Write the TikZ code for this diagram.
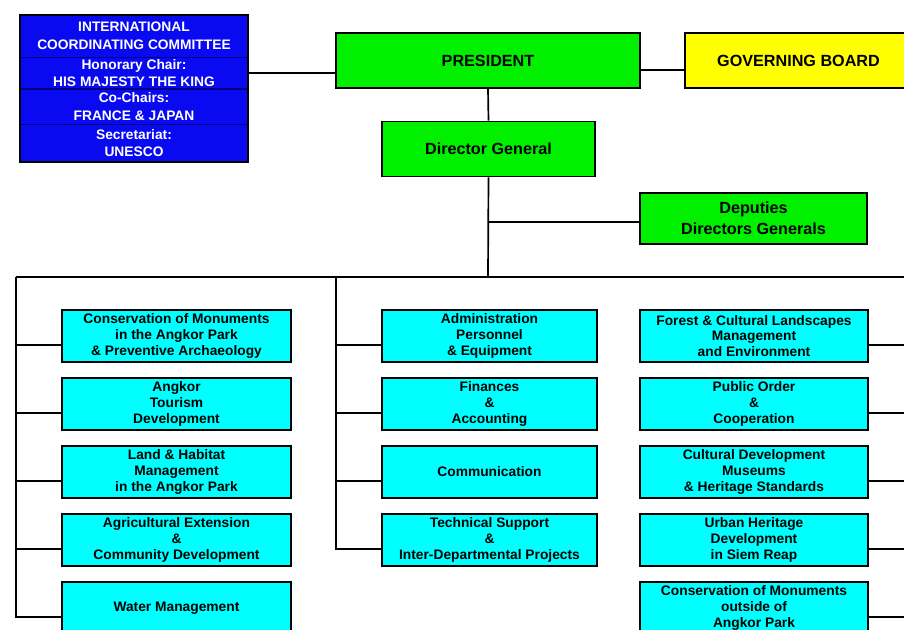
\documentclass[tikz,border=0pt]{standalone}
\usepackage{fontspec}
\setmainfont{Liberation Sans}
\usetikzlibrary{positioning}
\definecolor{iccblue}{HTML}{0A0AF2}
\definecolor{leadgreen}{HTML}{00F000}
\definecolor{boardyellow}{HTML}{FFFF00}
\definecolor{unitcyan}{HTML}{00FFFF}

\begin{document}
\begin{tikzpicture}[x=0.025cm,y=-0.025cm,
  every node/.style={align=center},
  head/.style={draw,line width=1.2pt,fill=leadgreen,minimum height=1.375cm,inner sep=1pt,font=\bfseries\fontsize{11.5}{15}\selectfont},
  unit/.style={draw,line width=1.2pt,fill=unitcyan,minimum height=1.3cm,inner sep=1pt,font=\bfseries\fontsize{9.8}{11.3}\selectfont},
  icccell/.style={draw=blue!50!black,fill=iccblue,text=white,minimum width=5.7cm,inner sep=0pt,font=\bfseries\fontsize{9.8}{12.5}\selectfont},
  link/.style={line width=1.2pt}]
\useasboundingbox (0,0) rectangle (904,630);
\clip (0,0) rectangle (904,630);

% committee
\node[icccell,minimum height=1.05cm] (icc1) at (134,36) {INTERNATIONAL\\COORDINATING COMMITTEE};
\node[icccell,minimum height=.775cm,below=0pt of icc1] (icc2) {Honorary Chair:\\HIS MAJESTY THE KING};
\node[icccell,minimum height=.875cm,below=0pt of icc2] (icc3) {Co-Chairs:\\FRANCE \& JAPAN};
\node[icccell,minimum height=.925cm,below=0pt of icc3] (icc4) {Secretariat:\\UNESCO};
\draw[line width=1.2pt] (icc1.north west) rectangle (icc4.south east);

% top of the chart
\node[head,minimum width=7.6cm] (pres) at (488,60.5) {PRESIDENT};
\node[head,fill=boardyellow,minimum width=5.675cm] (board) at (798.5,60.5) {GOVERNING BOARD};
\node[head,minimum width=5.325cm] (dg) at (488.5,149) {Director General};
\node[head,minimum width=5.675cm,minimum height=1.275cm] (dep) at (753.5,218.5) {Deputies\\Directors Generals};

\draw[link] (icc2.east) -- (pres.west |- icc2.east);
\draw[link] ([yshift=-0.24cm]pres.east) -- ([yshift=-0.24cm]board.west);
\draw[link] (pres.south) -- (dg.north);
\coordinate (hub) at (488,277);
\draw[link] (dg.south) -- (hub);
\draw[link] ([yshift=-0.09cm]dep.west) -- ([yshift=-0.09cm]dep.west -| hub);

% bus
\coordinate (lbus) at (16,277);
\coordinate (mbus) at (336,277);
\coordinate (rbus) at (910,277);
\draw[link] (lbus) -- (rbus);

% departments
\foreach \i/\txt in {1/{Conservation of Monuments\\in the Angkor Park\\\& Preventive Archaeology},
    2/{Angkor\\Tourism\\Development},
    3/{Land \& Habitat\\Management\\in the Angkor Park},
    4/{Agricultural Extension\\\&\\Community Development},
    5/{Water Management}}{
  \node[unit,minimum width=5.725cm] (l\i) at (176.5,268+68*\i) {\txt};
  \draw[link] ([yshift=-0.225cm]l\i.west) -| (lbus);
}
\foreach \i/\txt in {1/{Administration\\Personnel\\\& Equipment},
    2/{Finances\\\&\\Accounting},
    3/{Communication},
    4/{Technical Support\\\&\\Inter-Departmental Projects}}{
  \node[unit,minimum width=5.375cm] (m\i) at (489.5,268+68*\i) {\txt};
  \draw[link] ([yshift=-0.225cm]m\i.west) -| (mbus);
}
\foreach \i/\txt in {1/{Forest \& Cultural Landscapes\\Management\\and Environment},
    2/{Public Order\\\&\\Cooperation},
    3/{Cultural Development\\Museums\\\& Heritage Standards},
    4/{Urban Heritage\\Development\\in Siem Reap},
    5/{Conservation of Monuments\\outside of\\Angkor Park}}{
  \node[unit,minimum width=5.7cm] (r\i) at (754,268+68*\i) {\txt};
  \draw[link] ([yshift=-0.225cm]r\i.east) -| (rbus);
}
\end{tikzpicture}
\end{document}
